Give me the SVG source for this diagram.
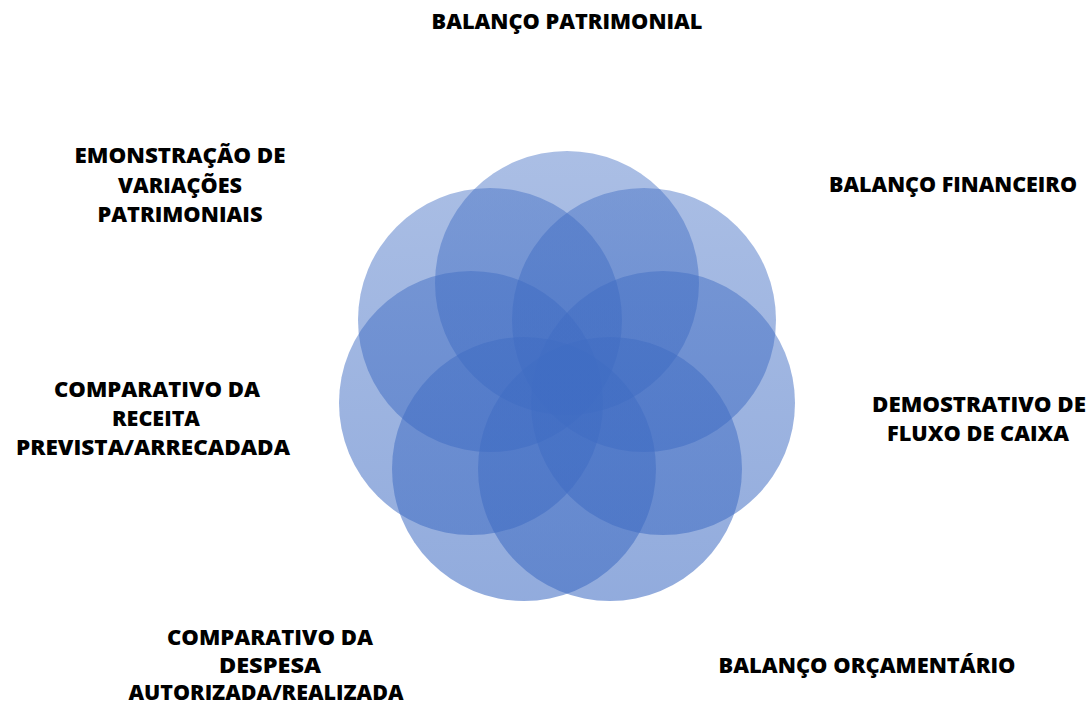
<svg xmlns="http://www.w3.org/2000/svg" width="1092" height="705" viewBox="0 0 1092 705">
<style>
.c{fill:url(#g)}
.t{font-family:"Open Sans","Liberation Sans",sans-serif;font-weight:800;font-size:21.5px;fill:#000;text-anchor:middle}
</style>
<defs>
<linearGradient id="g" gradientUnits="userSpaceOnUse" x1="0" y1="151" x2="0" y2="601">
<stop offset="0" stop-color="#3F6CC3" stop-opacity="0.44"/>
<stop offset="1" stop-color="#3F6CC3" stop-opacity="0.57"/>
</linearGradient>
</defs>
<rect width="1092" height="705" fill="#fff"/>
<g id="circles">
<circle id="c1" class="c" cx="567" cy="283" r="132"/>
<circle id="c2" class="c" cx="644" cy="320" r="132"/>
<circle id="c3" class="c" cx="663" cy="403" r="132"/>
<circle id="c4" class="c" cx="610" cy="469" r="132"/>
<circle id="c5" class="c" cx="524" cy="469" r="132"/>
<circle id="c6" class="c" cx="471" cy="403" r="132"/>
<circle id="c7" class="c" cx="490" cy="320" r="132"/>
</g>
<g id="connectors"></g>
<g id="n1"><text class="t" x="567" y="29" textLength="271" lengthAdjust="spacingAndGlyphs">BALANÇO PATRIMONIAL</text></g>
<g id="n2"><text class="t" x="953" y="192" textLength="248" lengthAdjust="spacingAndGlyphs">BALANÇO FINANCEIRO</text></g>
<g id="n3">
<text class="t" x="979" y="412" textLength="214" lengthAdjust="spacingAndGlyphs">DEMOSTRATIVO DE</text>
<text class="t" x="978" y="441" textLength="182" lengthAdjust="spacingAndGlyphs">FLUXO DE CAIXA</text>
</g>
<g id="n4"><text class="t" x="867" y="673" textLength="297" lengthAdjust="spacingAndGlyphs">BALANÇO ORÇAMENTÁRIO</text></g>
<g id="n5">
<text class="t" x="270" y="645" textLength="206" lengthAdjust="spacingAndGlyphs">COMPARATIVO DA</text>
<text class="t" x="270" y="673" textLength="102" lengthAdjust="spacingAndGlyphs">DESPESA</text>
<text class="t" x="266" y="700" textLength="275" lengthAdjust="spacingAndGlyphs">AUTORIZADA/REALIZADA</text>
</g>
<g id="n6">
<text class="t" x="157" y="397" textLength="206" lengthAdjust="spacingAndGlyphs">COMPARATIVO DA</text>
<text class="t" x="156" y="426" textLength="88" lengthAdjust="spacingAndGlyphs">RECEITA</text>
<text class="t" x="153" y="455" textLength="274" lengthAdjust="spacingAndGlyphs">PREVISTA/ARRECADADA</text>
</g>
<g id="n7">
<text class="t" x="180" y="163" textLength="211" lengthAdjust="spacingAndGlyphs">EMONSTRAÇÃO DE</text>
<text class="t" x="180" y="193" textLength="124" lengthAdjust="spacingAndGlyphs">VARIAÇÕES</text>
<text class="t" x="180" y="222" textLength="165" lengthAdjust="spacingAndGlyphs">PATRIMONIAIS</text>
</g>
</svg>
